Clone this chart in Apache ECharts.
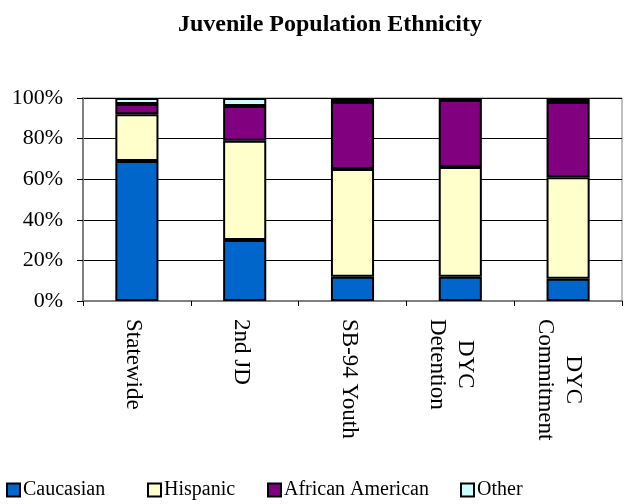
<!DOCTYPE html>
<html>
<head>
<meta charset="utf-8">
<script src="https://cdn.jsdelivr.net/npm/echarts@6/dist/echarts.min.js"></script>
<style>
html,body{margin:0;padding:0;background:#fff;}
#chart{width:630px;height:504px;}
</style>
</head>
<body>
<div id="chart"></div>
<script>
var categories = ['Statewide', '2nd JD', 'SB-94 Youth', 'DYC\nDetention', 'DYC\nCommitment'];
var seriesNames = ['Caucasian', 'Hispanic', 'African American', 'Other'];
var caucasian = [69, 30, 12, 12, 11];
var hispanic = [23, 49, 53, 54, 50];
var africanAmerican = [5, 17, 33, 33, 37];
var other = [3, 4, 2, 1, 2];
var yTicks = [0, 20, 40, 60, 80, 100];

var FONT = '"Liberation Serif", "Times New Roman", serif';
var XFS = 23;
var colors = ['#0066CC', '#FFFFCC', '#800080', '#CCFFFF'];
var legendLefts = [6, 147, 267, 460];

// Build rich styles to centre each line of multi-line category labels
var ctx = document.createElement('canvas').getContext('2d');
ctx.font = XFS + 'px "Liberation Serif"';
var rich = {};
categories.forEach(function (cat, ci) {
  var lines = cat.split('\n');
  var widths = lines.map(function (s) { return ctx.measureText(s).width; });
  var maxW = Math.max.apply(null, widths);
  lines.forEach(function (s, li) {
    rich['l' + ci + '_' + li] = {
      fontFamily: FONT, fontSize: XFS, color: '#000', lineHeight: 28,
      padding: [0, 0, 0, (maxW - widths[li]) / 2]
    };
  });
});

var categoryItems = categories.map(function (c) {
  var multi = c.indexOf('\n') >= 0;
  return {value: c, textStyle: {padding: [multi ? 19 : 7, 0, 0, 0]}};
});

var chart = echarts.init(document.getElementById('chart'), null, {renderer: 'canvas'});

function mk(name, data, color) {
  return {
    name: name, type: 'bar', stack: 'total', data: data, barWidth: '40%',
    itemStyle: {color: color, borderColor: '#000', borderWidth: 2},
    emphasis: {disabled: true}
  };
}

var legends = seriesNames.map(function (n, i) {
  return {
    left: legendLefts[i], bottom: 4, padding: 0, itemWidth: 13, itemHeight: 13,
    icon: 'rect', itemStyle: {borderColor: '#000', borderWidth: 2},
    textStyle: {fontFamily: FONT, fontSize: 20, color: '#000', padding: [0, 0, 0, -2]},
    selectedMode: false,
    data: [n]
  };
});

chart.setOption({
  animation: false,
  title: {
    text: 'Juvenile Population Ethnicity',
    left: 325, top: 8, textAlign: 'center',
    textStyle: {fontFamily: FONT, fontWeight: 'bold', fontSize: 24, color: '#000'}
  },
  grid: {left: 83, right: 8, top: 98, bottom: 203, show: true, borderColor: '#808080', borderWidth: 1},
  legend: legends,
  xAxis: {
    type: 'category', data: categoryItems,
    axisLine: {lineStyle: {color: '#808080', width: 2}},
    axisTick: {show: true, length: 5, lineStyle: {color: '#000'}},
    axisLabel: {
      rotate: -90, margin: 18, color: '#000', fontFamily: FONT, fontSize: XFS,
      formatter: function (v, idx) {
        return v.split('\n').map(function (s, li) { return '{l' + idx + '_' + li + '|' + s + '}'; }).join('\n');
      },
      rich: rich
    }
  },
  yAxis: {
    type: 'value', min: yTicks[0], max: yTicks[yTicks.length - 1], interval: 20,
    axisLine: {show: true, lineStyle: {color: '#808080', width: 2}},
    axisTick: {show: true, length: 6, lineStyle: {color: '#000'}},
    axisLabel: {formatter: '{value}%', color: '#000', fontFamily: FONT, fontSize: 22, margin: 20},
    splitLine: {lineStyle: {color: '#000', width: 1}}
  },
  series: [
    mk(seriesNames[0], caucasian, colors[0]),
    mk(seriesNames[1], hispanic, colors[1]),
    mk(seriesNames[2], africanAmerican, colors[2]),
    mk(seriesNames[3], other, colors[3])
  ]
});
</script>
</body>
</html>
